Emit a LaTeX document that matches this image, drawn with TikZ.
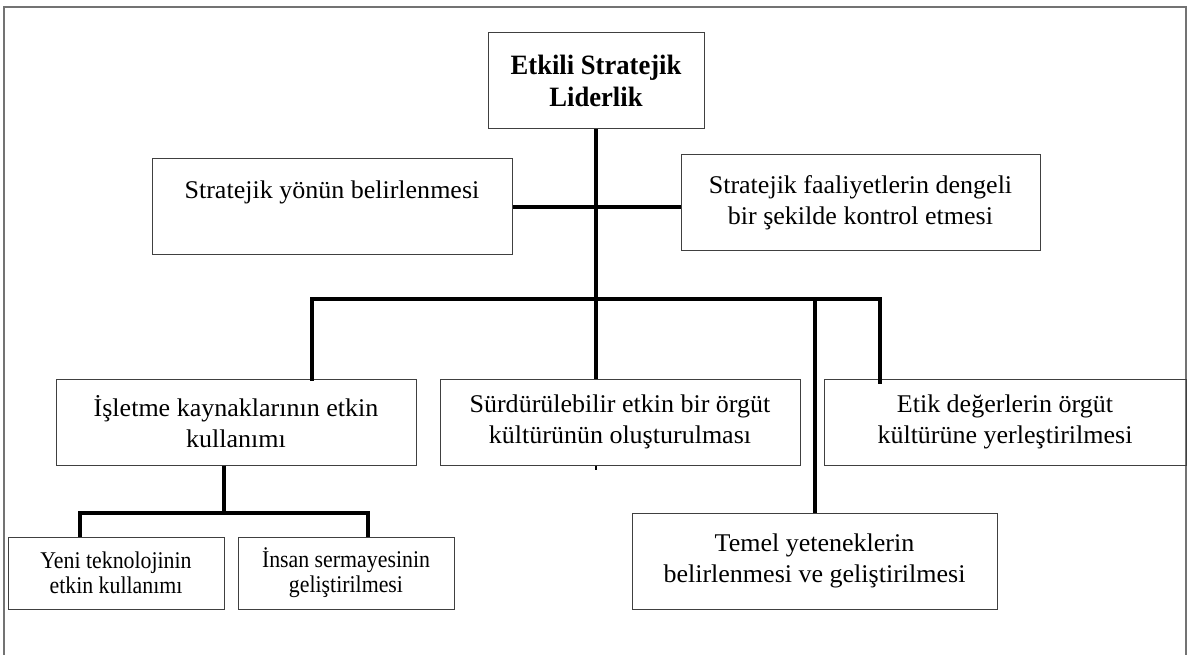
\documentclass[tikz,border=0pt]{standalone}
\usepackage{fontspec}
\setmainfont{Liberation Serif}
\newfontfamily\titlefont{Liberation Serif}[FakeStretch=0.95]
\newfontfamily\widefont{Liberation Serif}[FakeStretch=1.02]
\newfontfamily\smallfont{Liberation Serif}[FakeStretch=0.91]
\begin{document}
\begin{tikzpicture}[x=1pt,y=-1pt,
  box/.style={draw=black!75, line width=1pt, rectangle, inner sep=0pt, align=center},
  titlebox/.style={box, font=\titlefont\bfseries\fontsize{28}{32}\selectfont},
  midfont/.style={font=\widefont\fontsize{25.5}{31}\selectfont},
  midbox/.style={box, midfont},
  midtext/.style={inner sep=0pt, midfont},
  smallbox/.style={box, font=\smallfont\fontsize{24}{25}\selectfont},
  conn/.style={line width=4pt, black},
  frameline/.style={draw=black!55, line width=1.4pt}]
\useasboundingbox (0,0) rectangle (1192,655);

% outer frame, open at the bottom
\draw[frameline] (4,655) -- (4,7) -- (1186,7) -- (1186,655);

% boxes
\node[titlebox, minimum width=216pt, minimum height=96pt] (top) at (596,81)
  {Etkili Stratejik\\Liderlik};
\node[midbox, minimum width=360pt, minimum height=96pt] (dir) at (332,207) {};
\node[midtext, anchor=base] (dirtext) at (332,199) {Stratejik yönün belirlenmesi};
\node[midbox, minimum width=359pt, minimum height=96pt] (ctl) at (860.5,203)
  {Stratejik faaliyetlerin dengeli\\bir şekilde kontrol etmesi};
\node[midbox, minimum width=360pt, minimum height=86pt] (isl) at (236,422)
  {İşletme kaynaklarının etkin\\kullanımı};
\node[midbox, minimum width=360pt, minimum height=86pt] (sust) at (620,422)
  {Sürdürülebilir etkin bir örgüt\\kültürünün oluşturulması};
\node[midbox, minimum width=362pt, minimum height=86pt] (etik) at (1005,422)
  {Etik değerlerin örgüt\\kültürüne yerleştirilmesi};
\node[midbox, minimum width=365pt, minimum height=96pt] (temel) at (814.5,561)
  {Temel yeteneklerin\\belirlenmesi ve geliştirilmesi};
\node[smallbox, minimum width=216pt, minimum height=72pt] (yeni) at (116,573)
  {Yeni teknolojinin\\etkin kullanımı};
\node[smallbox, minimum width=216pt, minimum height=72pt] (insan) at (346,573)
  {İnsan sermayesinin\\geliştirilmesi};

% junction points of the connector buses
\coordinate (busL) at (312,299);
\coordinate (busR) at (880,299);
\coordinate (subM) at (224,513);
\coordinate (subL) at (80,513);
\coordinate (subR) at (368,513);

% main trunk and side branch
\draw[conn] (top.south) -- (top.south |- sust.north);
\draw[conn] (dir.east) -- (dir.east -| ctl.west);
\draw[line width=2pt] (top.south |- sust.south) -- ++(0,4);

% bus to the second row
\draw[conn] ([yshift=-2pt]busL |- isl.north) -- (busL) -- (busR) -- ([yshift=-5pt]busR |- etik.north);
\draw[conn] (temel.north |- busR) -- (temel.north);

% sub-branch under the resources box
\draw[conn] (subM |- isl.south) -- (subM);
\draw[conn] (subL |- yeni.north) -- (subL) -- (subR) -- (subR |- insan.north);
\end{tikzpicture}
\end{document}
